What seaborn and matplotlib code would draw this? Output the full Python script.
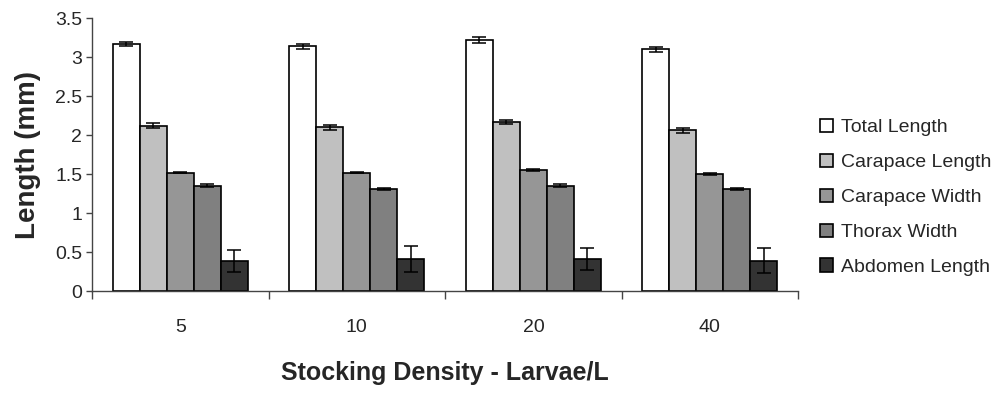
import matplotlib
matplotlib.use("Agg")
import matplotlib.pyplot as plt
from matplotlib.patches import Patch
from matplotlib.ticker import FixedLocator
import seaborn as sns
import pandas as pd
import numpy as np

sns.set_style("white")
plt.rcParams['font.family'] = ['Liberation Sans', 'DejaVu Sans']

# data
densities = ["5", "10", "20", "40"]
measures = ["Total Length", "Carapace Length", "Carapace Width", "Thorax Width", "Abdomen Length"]
total_length = [3.17, 3.14, 3.22, 3.10]
carapace_length = [2.12, 2.10, 2.17, 2.06]
carapace_width = [1.52, 1.52, 1.55, 1.50]
thorax_width = [1.35, 1.31, 1.35, 1.31]
abdomen_length = [0.39, 0.41, 0.41, 0.39]
total_err = [0.03, 0.03, 0.04, 0.03]
carapace_length_err = [0.03, 0.03, 0.03, 0.03]
carapace_width_err = [0.01, 0.01, 0.01, 0.01]
thorax_width_err = [0.02, 0.01, 0.02, 0.01]
abdomen_err = [0.14, 0.17, 0.14, 0.16]
y_ticks = [0, 0.5, 1, 1.5, 2, 2.5, 3, 3.5]

colors = ["#ffffff", "#c0c0c0", "#969696", "#808080", "#333333"]

values = [total_length, carapace_length, carapace_width, thorax_width, abdomen_length]
errors = [total_err, carapace_length_err, carapace_width_err, thorax_width_err, abdomen_err]
df = pd.DataFrame({
    "density": np.tile(densities, len(measures)),
    "measure": np.repeat(measures, len(densities)),
    "length": np.concatenate(values),
})

fig, ax = plt.subplots(figsize=(9.94, 3.94), dpi=100)
fig.subplots_adjust(left=0.0926, right=0.803, top=0.954, bottom=0.261)

sns.barplot(data=df, x="density", y="length", hue="measure", order=densities,
            hue_order=measures, palette=colors, width=0.765, gap=0,
            edgecolor="black", linewidth=1.2, errorbar=None, legend=False, ax=ax)

# error bars on each bar (one container per hue level)
for i, m in enumerate(measures):
    bars = ax.containers[i]
    xs = [b.get_x() + b.get_width() / 2 for b in bars]
    ax.errorbar(xs, values[i], yerr=errors[i], fmt="none", ecolor="black",
                elinewidth=1.1, capsize=5, capthick=1.1, zorder=5)

ax.set_ylim(0, 3.5)
ax.set_xlim(-0.5, 3.5)
ax.set_yticks(y_ticks)
ax.set_yticklabels([f"{v:g}" for v in y_ticks])
ax.tick_params(axis="y", labelsize=14, length=4, width=1, color="#444444", left=True, pad=3)
ax.tick_params(axis="x", which="major", length=0, labelsize=14, pad=20)
ax.xaxis.set_minor_locator(FixedLocator([-0.5, 0.5, 1.5, 2.5, 3.5]))
ax.tick_params(axis="x", which="minor", length=6, width=1, color="#444444", bottom=True)

for s in ["top", "right"]:
    ax.spines[s].set_visible(False)
for s in ["left", "bottom"]:
    ax.spines[s].set_color("#444444")
    ax.spines[s].set_linewidth(1)

ax.set_ylabel("Length (mm)", fontsize=20, fontweight="bold", labelpad=10)
ax.set_xlabel("Stocking Density - Larvae/L", fontsize=18, fontweight="bold", labelpad=18)

handles = [Patch(facecolor=c, edgecolor="black", linewidth=1.2) for c in colors]
fig.legend(handles, measures, loc="center left", bbox_to_anchor=(0.815, 0.499),
           frameon=False, fontsize=14, handlelength=0.7, handleheight=0.7,
           handletextpad=0.4, labelspacing=0.89, borderpad=0)

fig.savefig("out.png", dpi=100)
